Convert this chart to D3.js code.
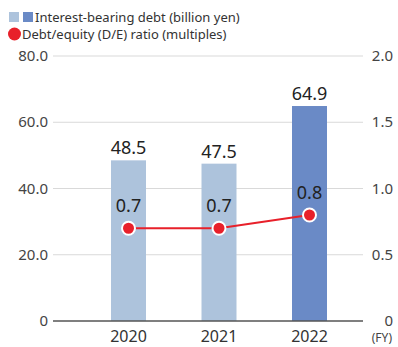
<!DOCTYPE html>
<html>
<head>
<meta charset="utf-8">
<script src="https://cdn.jsdelivr.net/npm/d3@7"></script>
<style>
  body { margin: 0; background: #fff; }
  text { font-family: "Noto Sans", "Open Sans", sans-serif; }
</style>
</head>
<body>
<div id="chart"></div>
<script>
var years = ["2020", "2021", "2022"];
var debt = [48.5, 47.5, 64.9];
var deRatio = [0.7, 0.7, 0.8];
var leftTicks = [0, 20, 40, 60, 80];
var rightTicks = [0, 0.5, 1.0, 1.5, 2.0];

var fullwidth = 398, fullheight = 347;
var plot = {left: 53, right: 363, top: 56, bottom: 321};

var svg = d3.select("#chart").append("svg")
    .attr("width", fullwidth)
    .attr("height", fullheight);

var xScale = d3.scalePoint().domain(years).range([128.5, 309.5]);
var barW = 35;
var yLeft = d3.scaleLinear().domain([0, 80]).range([plot.bottom, plot.top]);
var yRight = d3.scaleLinear().domain([0, 2]).range([plot.bottom, plot.top]);

// gridlines
svg.selectAll(".grid")
    .data(leftTicks.slice(1))
    .enter().append("line")
    .attr("x1", plot.left).attr("x2", plot.right)
    .attr("y1", function(d) { return yLeft(d); })
    .attr("y2", function(d) { return yLeft(d); })
    .attr("stroke", "#d9d9d9").attr("stroke-width", 1);

// left tick labels
svg.selectAll(".ltick")
    .data(leftTicks)
    .enter().append("text")
    .attr("x", 48)
    .attr("y", function(d) { return yLeft(d) + 5; })
    .attr("text-anchor", "end")
    .attr("font-size", 15)
    .attr("fill", "#444")
    .text(function(d) { return d === 0 ? "0" : d.toFixed(1); });

// right tick labels
svg.selectAll(".rtick")
    .data(rightTicks)
    .enter().append("text")
    .attr("x", 393)
    .attr("y", function(d) { return yRight(d) + 5; })
    .attr("text-anchor", "end")
    .attr("font-size", 15)
    .attr("fill", "#444")
    .text(function(d) { return d === 0 ? "0" : d.toFixed(1); });

// bars
svg.selectAll(".bar")
    .data(debt)
    .enter().append("rect")
    .attr("x", function(d, i) { return xScale(years[i]) - barW / 2; })
    .attr("y", function(d) { return yLeft(d); })
    .attr("width", barW)
    .attr("height", function(d) { return plot.bottom - yLeft(d); })
    .attr("fill", function(d, i) { return i === 2 ? "#6a8ac6" : "#adc3dc"; });

// bar labels
svg.selectAll(".barlabel")
    .data(debt)
    .enter().append("text")
    .attr("x", function(d, i) { return xScale(years[i]); })
    .attr("y", function(d) { return yLeft(d) - 6; })
    .attr("text-anchor", "middle")
    .attr("font-size", 18)
    .attr("fill", "#222")
    .text(function(d) { return d.toFixed(1); });

// baseline
svg.append("line")
    .attr("x1", plot.left).attr("x2", plot.right)
    .attr("y1", plot.bottom).attr("y2", plot.bottom)
    .attr("stroke", "#555").attr("stroke-width", 1.5);

// x labels
svg.selectAll(".xlabel")
    .data(years)
    .enter().append("text")
    .attr("x", function(d) { return xScale(d); })
    .attr("y", 342)
    .attr("text-anchor", "middle")
    .attr("font-size", 16)
    .attr("fill", "#333")
    .text(function(d) { return d; });

svg.append("text")
    .attr("x", 392).attr("y", 342)
    .attr("text-anchor", "end")
    .attr("font-size", 12)
    .attr("fill", "#444")
    .text("(FY)");

// D/E line
var line = d3.line()
    .x(function(d, i) { return xScale(years[i]); })
    .y(function(d) { return yRight(d); });

svg.append("path")
    .datum(deRatio)
    .attr("d", line)
    .attr("fill", "none")
    .attr("stroke", "#e8202a")
    .attr("stroke-width", 2);

svg.selectAll(".dot")
    .data(deRatio)
    .enter().append("circle")
    .attr("cx", function(d, i) { return xScale(years[i]); })
    .attr("cy", function(d) { return yRight(d); })
    .attr("r", 6.5)
    .attr("fill", "#e8202a")
    .attr("stroke", "#fff")
    .attr("stroke-width", 2);

svg.selectAll(".dotlabel")
    .data(deRatio)
    .enter().append("text")
    .attr("x", function(d, i) { return xScale(years[i]); })
    .attr("y", function(d) { return yRight(d) - 16; })
    .attr("text-anchor", "middle")
    .attr("font-size", 18)
    .attr("fill", "#222")
    .text(function(d) { return d.toFixed(1); });

// legend
svg.append("rect").attr("x", 9).attr("y", 12).attr("width", 10).attr("height", 10).attr("fill", "#adc3dc");
svg.append("rect").attr("x", 23).attr("y", 12).attr("width", 10).attr("height", 10).attr("fill", "#6a8ac6");
svg.append("text")
    .attr("x", 35).attr("y", 22)
    .attr("font-size", 13)
    .attr("fill", "#333")
    .text("Interest-bearing debt (billion yen)");
svg.append("circle").attr("cx", 14.5).attr("cy", 34).attr("r", 6.5).attr("fill", "#e8202a");
svg.append("text")
    .attr("x", 22).attr("y", 39)
    .attr("font-size", 13)
    .attr("fill", "#333")
    .text("Debt/equity (D/E) ratio (multiples)");
</script>
</body>
</html>
